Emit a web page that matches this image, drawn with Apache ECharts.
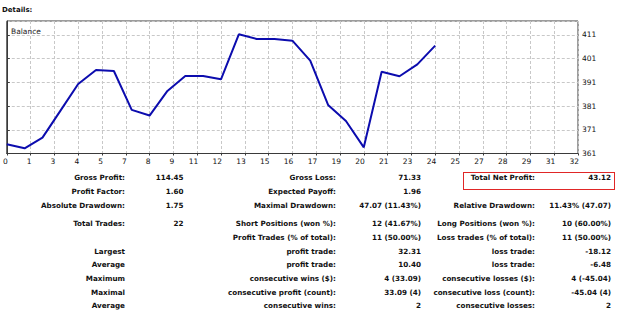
<!DOCTYPE html>
<html>
<head>
<meta charset="utf-8">
<script src="https://cdn.jsdelivr.net/npm/echarts@6/dist/echarts.min.js"></script>
<style>
  html, body { margin: 0; padding: 0; background: #fff; }
  #page { position: relative; width: 625px; height: 324px; overflow: hidden; font-family: "DejaVu Sans", sans-serif; color: #111; }
  #balance_chart { position: absolute; left: 0; top: 0; width: 625px; height: 324px; }
  .txt { position: absolute; font-size: 7.2px; font-weight: bold; white-space: nowrap; line-height: 10px; height: 10px; }
  .r { text-align: right; }
  #details { position: absolute; left: 2px; top: 5px; font-size: 7px; font-weight: bold; line-height: 10px; }
  #netbox { position: absolute; left: 463px; top: 172px; width: 150px; height: 16px; border: 1px solid #e02626; }
</style>
</head>
<body>
<div id="page">
  <div id="balance_chart"></div>
  <div id="details">Details:</div>
  <div id="netbox"></div>
  <div id="table"></div>
</div>
<script>
// balance after each trade
var balanceValues = [364.9, 363.2, 367.7, 379.0, 390.3, 396.2, 395.8, 379.4, 377.0, 387.4,
  393.7, 393.7, 392.3, 411.3, 409.3, 409.3, 408.6, 400.2, 381.5, 374.7,
  363.6, 395.5, 393.6, 398.6, 406.5];
var xMin = 0, xMax = 32, xStep = 4 / 3;
var yMin = 361, yMax = 416.9, yStep = 10;

// report table
var col1Labels = ["Gross Profit:", "Profit Factor:", "Absolute Drawdown:", "Total Trades:", "", "Largest", "Average", "Maximum", "Maximal", "Average"];
var col1Values = ["114.45", "1.60", "1.75", "22", "", "", "", "", "", ""];
var col2Labels = ["Gross Loss:", "Expected Payoff:", "Maximal Drawdown:", "Short Positions (won %):", "Profit Trades (% of total):", "profit trade:", "profit trade:", "consecutive wins ($):", "consecutive profit (count):", "consecutive wins:"];
var col2Values = ["71.33", "1.96", "47.07 (11.43%)", "12 (41.67%)", "11 (50.00%)", "32.31", "10.40", "4 (33.09)", "33.09 (4)", "2"];
var col3Labels = ["Total Net Profit:", "", "Relative Drawdown:", "Long Positions (won %):", "Loss trades (% of total):", "loss trade:", "loss trade:", "consecutive losses ($):", "consecutive loss (count):", "consecutive losses:"];
var col3Values = ["43.12", "", "11.43% (47.07)", "10 (60.00%)", "11 (50.00%)", "-18.12", "-6.48", "4 (-45.04)", "-45.04 (4)", "2"];

var rowY = [178, 191.5, 205.5, 224, 238, 251.5, 265, 279, 292.5, 306];
var colRight = [125, 183.5, 336, 421, 535, 611];

function buildTable() {
  var cols = [col1Labels, col1Values, col2Labels, col2Values, col3Labels, col3Values];
  var html = "";
  cols.forEach(function (col, c) {
    col.forEach(function (t, r) {
      if (!t) return;
      html += '<div class="txt r" style="right:' + (625 - colRight[c]) + 'px;top:' + (rowY[r] - 5) + 'px">' + t + '</div>';
    });
  });
  document.getElementById("table").innerHTML = html;
}

function initChart() {
  var chart = echarts.init(document.getElementById("balance_chart"), null, { renderer: "svg" });
  var option = {
    animation: false,
    title: {
      text: "Balance",
      left: 6,
      top: 22,
      textStyle: { fontFamily: "DejaVu Sans", fontSize: 7.5, fontWeight: "normal", color: "#222" }
    },
    grid: {
      left: 5, right: 47, top: 21, bottom: 170.5,
      show: true, borderColor: "#3a3a3a", borderWidth: 1, backgroundColor: "#fff"
    },
    xAxis: {
      type: "value",
      min: xMin, max: xMax, interval: xStep,
      axisLine: { show: true, lineStyle: { color: "#3a3a3a" } },
      axisTick: { show: true, length: 2, lineStyle: { color: "#3a3a3a" } },
      axisLabel: {
        margin: 4, fontFamily: "DejaVu Sans", fontSize: 7.5, color: "#111",
        align: "right", padding: [0, -1, 0, 0],
        showMinLabel: true, showMaxLabel: true,
        formatter: function (v) { return Math.round(v); }
      },
      splitLine: { show: true, lineStyle: { color: "#c8c8c8", type: [3, 2] } }
    },
    yAxis: {
      type: "value",
      position: "right",
      min: yMin, max: yMax, interval: yStep,
      axisLine: { show: true, lineStyle: { color: "#3a3a3a" } },
      axisTick: { show: true, length: 3, lineStyle: { color: "#3a3a3a" } },
      axisLabel: {
        margin: 4, fontFamily: "DejaVu Sans", fontSize: 7.5, color: "#111",
        showMaxLabel: false
      },
      splitLine: { show: true, lineStyle: { color: "#c8c8c8", type: [3, 2] } }
    },
    series: [{
      type: "line",
      data: balanceValues.map(function (v, i) { return [i, v]; }),
      showSymbol: false,
      lineStyle: { color: "#0c0cae", width: 2 },
      itemStyle: { color: "#0c0cae" }
    }]
  };
  chart.setOption(option);
}

buildTable();
initChart();
</script>
</body>
</html>
